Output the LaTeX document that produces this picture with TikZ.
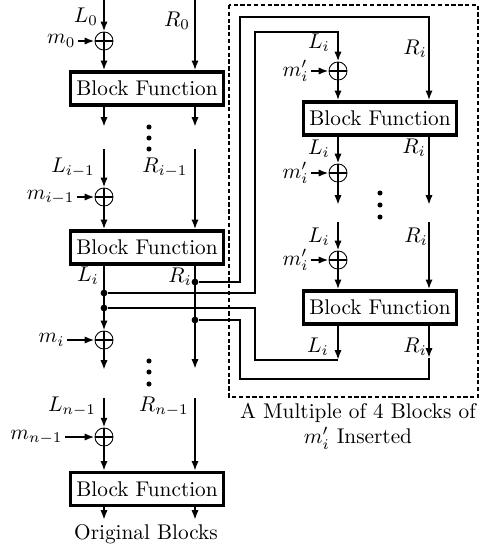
\documentclass[tikz,border=0pt]{standalone}
\usetikzlibrary{arrows.meta}
\tikzset{
  blk/.style={draw, line width=1.5pt, minimum width=72pt, minimum height=15.5pt, inner sep=2pt},
  xor/.style={circle, draw, thin, minimum size=8.5pt, inner sep=0pt,
    path picture={\draw[line width=1.2pt] (path picture bounding box.north) -- (path picture bounding box.south)
      (path picture bounding box.west) -- (path picture bounding box.east);}},
  flow/.style={line width=1.2pt, -{Latex[length=4.6pt,width=3.4pt]}},
  wire/.style={line width=1.2pt},
  jn/.style={circle, fill, inner sep=0pt, minimum size=3.2pt},
  vdot/.style={circle, fill, inner sep=0pt, minimum size=2.4pt},
  mlbl/.style={anchor=east, inner sep=1pt}
}
\begin{document}
\begin{tikzpicture}[x=0.47pt,y=-0.47pt]
\useasboundingbox (0,0) rectangle (480,547);
% original chain
\node[xor] (x0) at (104,41) {};
\node[xor] (x1) at (104,197) {};
\node[xor] (x2) at (104,340) {};
\node[xor] (x3) at (104,437) {};
\node[blk] (b1) at (147,88.5) {Block Function};
\node[blk] (b2) at (147,247.5) {Block Function};
\node[blk] (b3) at (147,489) {Block Function};
\coordinate (l0) at (104,0);   \coordinate (r0) at (195,0);
\coordinate (l1e) at (104,127); \coordinate (r1e) at (195,127);
\coordinate (l1) at (104,149); \coordinate (r1) at (195,149);
\coordinate (r2e) at (195,369); \coordinate (l2e) at (104,370);
\coordinate (l3) at (104,398); \coordinate (r3) at (195,398);
\coordinate (l4e) at (104,520); \coordinate (r4e) at (195,520);
\node[mlbl] (m0) at (78,41) {$m_0$};
\node[mlbl] (m1) at (77,197) {$m_{i-1}$};
\node[mlbl] (m2) at (67,340) {$m_i$};
\node[mlbl] (m3) at (65,437) {$m_{n-1}$};
\node (tl0) at (86,17) {$L_0$};
\node (tr0) at (177,21) {$R_0$};
\node (tl1) at (73,168) {$L_{i-1}$};
\node (tr1) at (165,168) {$R_{i-1}$};
\node (tl2) at (88,276) {$L_i$};
\node (tr2) at (180,277) {$R_i$};
\node (tl3) at (72,407) {$L_{n-1}$};
\node (tr3) at (164,407) {$R_{n-1}$};
\node (orig) at (146,534) {Original Blocks};
\draw[flow] (l0) -- (x0);
\draw[flow] (x0) -- (x0 |- b1.north);
\draw[flow] (r0) -- (r0 |- b1.north);
\draw[flow] (l1e |- b1.south) -- (l1e);
\draw[flow] (r1e |- b1.south) -- (r1e);
\draw[flow] (l1) -- (x1);
\draw[flow] (x1) -- (x1 |- b2.north);
\draw[flow] (r1) -- (r1 |- b2.north);
\draw[flow] (x2 |- b2.south) -- (x2);
\draw[flow] (x2) -- (l2e);
\draw[flow] (r2e |- b2.south) -- (r2e);
\draw[flow] (l3) -- (x3);
\draw[flow] (x3) -- (x3 |- b3.north);
\draw[flow] (r3) -- (r3 |- b3.north);
\draw[flow] (l4e |- b3.south) -- (l4e);
\draw[flow] (r4e |- b3.south) -- (r4e);
\foreach \m/\x in {m0/x0, m1/x1, m2/x2, m3/x3} \draw[flow] (\m.east) -- (\x.west);
\foreach \y in {127,138,149} \node[vdot] at (149,\y) {};
\foreach \y in {361,372,384} \node[vdot] at (149,\y) {};
% inserted blocks
\draw[line width=1.2pt, dash pattern=on 2pt off 1.2pt] (229,5) rectangle (478,397);
\node[xor] (y0) at (338,71) {};
\node[xor] (y1) at (338,173) {};
\node[xor] (y2) at (338,260) {};
\node[blk] (c1) at (380,118.5) {Block Function};
\node[blk] (c2) at (380,307.5) {Block Function};
\coordinate (q1e) at (338,205); \coordinate (s1e) at (429,205);
\coordinate (q2) at (338,222); \coordinate (s2) at (429,222);
\coordinate (q3e) at (338,360); \coordinate (s3e) at (429,358);
\node[mlbl] (n0) at (311,71) {$m'_i$};
\node[mlbl] (n1) at (311,173) {$m'_i$};
\node[mlbl] (n2) at (311,260) {$m'_i$};
\node (ul0) at (319,43) {$L_i$};
\node (ur0) at (415,49) {$R_i$};
\node (ul1) at (319,149) {$L_i$};
\node (ur1) at (414,148) {$R_i$};
\node (ul2) at (319,237) {$L_i$};
\node (ur2) at (416,237) {$R_i$};
\node (ul3) at (318,347) {$L_i$};
\node (ur3) at (415,347) {$R_i$};
\foreach \n/\x in {n0/y0, n1/y1, n2/y2} \draw[flow] (\n.east) -- (\x.west);
\draw[flow] (y0) -- (y0 |- c1.north);
\draw[flow] (y0 |- c1.south) -- (y1);
\draw[flow] (y1) -- (q1e);
\draw[flow] (s1e |- c1.south) -- (s1e);
\draw[flow] (q2) -- (y2);
\draw[flow] (y2) -- (y2 |- c2.north);
\draw[flow] (s2) -- (s2 |- c2.north);
\draw[flow] (q3e |- c2.south) -- (q3e);
\draw[flow] (s3e |- c2.south) -- (s3e);
\foreach \y in {193,205,217} \node[vdot] at (380,\y) {};
% taps and loops
\node[jn] (jr0) at (195,282) {};
\node[jn] (jl0) at (104,293) {};
\node[jn] (jl1) at (104,308) {};
\node[jn] (jr1) at (195,320) {};
\draw[flow] (jr0) -- (240,282) -- (240,17) -| (s1e |- c1.north);
\draw[flow] (jl0) -- (255,293) -- (255,32) -| (y0);
\draw[wire] (q3e) -- (255,360) -- (255,308) -- (jl1);
\draw[wire] (s3e) -- (429,379) -- (240,379) -- (240,320) -- (jr1);
\node[align=center] (cap) at (358,426) {A Multiple of 4 Blocks of\\$m'_i$ Inserted};
\end{tikzpicture}
\end{document}
